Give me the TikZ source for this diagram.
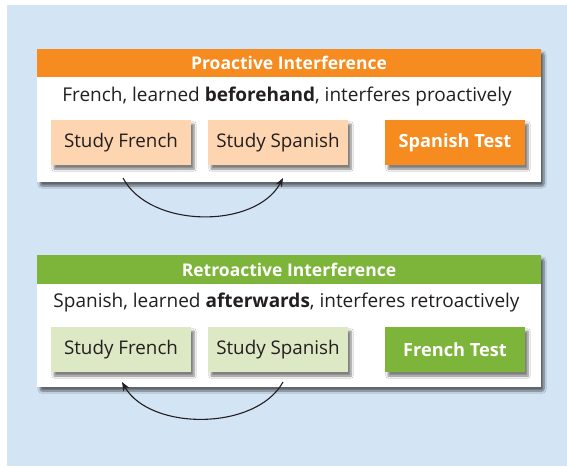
\documentclass[tikz,border=0pt]{standalone}
\usepackage{fontspec}
\setmainfont{Open Sans}
\usetikzlibrary{shadows.blur,arrows.meta}
\definecolor{bgblue}{HTML}{D3E4F4}
\definecolor{orangeH}{HTML}{F68B1F}
\definecolor{orangeL}{HTML}{FDD5B0}
\definecolor{greenH}{HTML}{7DB43A}
\definecolor{greenL}{HTML}{DCE9C4}
\definecolor{inkc}{HTML}{231F20}
\tikzset{
  panel/.style={fill=white, minimum width=504pt, minimum height=133pt, inner sep=0pt,
    blur shadow={shadow xshift=3pt, shadow yshift=-4pt, shadow blur steps=8, shadow blur extra rounding=2pt, shadow opacity=55}},
  header/.style={minimum width=504pt, minimum height=28pt, inner sep=0pt, text=white, font=\fontsize{17.5}{20}\selectfont\bfseries},
  subtitle/.style={inner sep=0pt, text=inkc, font=\fontsize{19}{22}\selectfont},
  stepbox/.style={minimum width=140pt, minimum height=45pt, inner sep=0pt, text=inkc, font=\fontsize{18.8}{22}\selectfont,
    blur shadow={shadow xshift=3pt, shadow yshift=-4pt, shadow blur steps=6, shadow opacity=50}},
  testbox/.style={stepbox, text=white, font=\fontsize{18.2}{22}\selectfont\bfseries},
  link/.style={draw=inkc, line width=1.1pt, -{Stealth[length=9pt,width=7pt]}}
}
\begin{document}
\begin{tikzpicture}[x=1pt,y=-1pt]
\useasboundingbox (0,0) rectangle (567,466);
\fill[bgblue] (7,5) rectangle (567,466);
% Proactive panel
\node[panel] (p1) at (289,115.5) {};
\node[header, fill=orangeH] (h1) at (289,63) {Proactive Interference};
\node[subtitle] (s1) at (287,97) {French, learned \textbf{beforehand}, interferes proactively};
\node[stepbox, fill=orangeL] (sf1) at (121,142.5) {Study French};
\node[stepbox, fill=orangeL] (ss1) at (278,142.5) {Study Spanish};
\node[testbox, fill=orangeH] (st1) at (455,142.5) {Spanish Test};
\coordinate (a1s) at (123,178);
\coordinate (a1e) at (283,178);
\draw[link] (a1s) .. controls (150,229) and (256,229) .. (a1e);
% Retroactive panel
\node[panel, minimum height=132pt] (p2) at (289,321) {};
\node[header, fill=greenH, minimum height=29pt] (h2) at (289,269.5) {Retroactive Interference};
\node[subtitle] (s2) at (286.5,303) {Spanish, learned \textbf{afterwards}, interferes retroactively};
\node[stepbox, fill=greenL] (sf2) at (121,349.5) {Study French};
\node[stepbox, fill=greenL] (ss2) at (278,349.5) {Study Spanish};
\node[testbox, fill=greenH] (ft2) at (455,349.5) {French Test};
\coordinate (a2s) at (283,382);
\coordinate (a2e) at (122,382);
\draw[link] (a2s) .. controls (256,431) and (150,431) .. (a2e);
\end{tikzpicture}
\end{document}
